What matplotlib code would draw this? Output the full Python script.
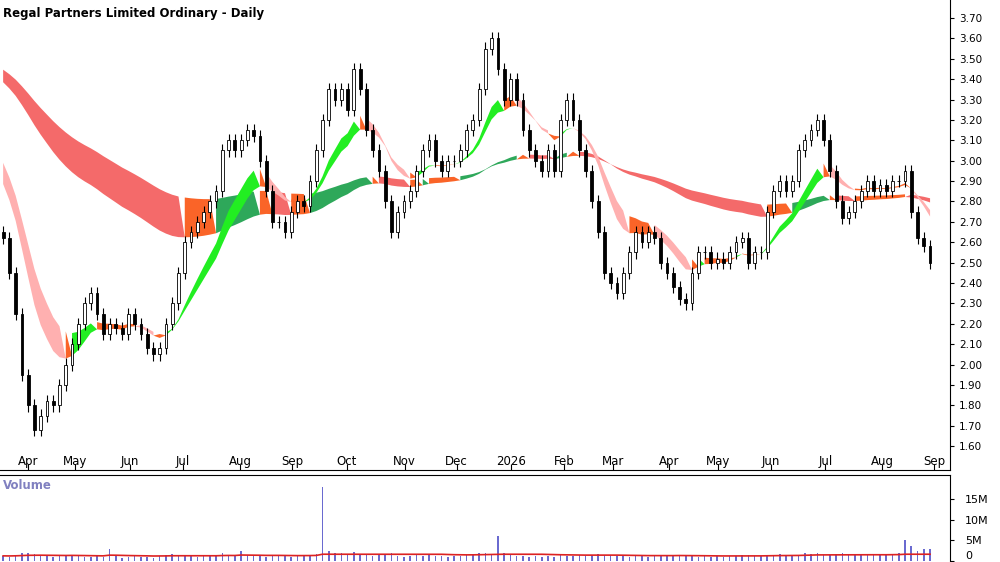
import matplotlib.pyplot as plt
import numpy as np

TITLE = "Regal Partners Limited Ordinary - Daily"

# closes (one bar every ~2 sessions)
closes = [2.62, 2.45, 2.25, 1.95, 1.80, 1.68, 1.75, 1.82, 1.80, 1.90, 2.00, 2.10, 2.20, 2.30,
          2.35, 2.25, 2.15, 2.20, 2.18, 2.15, 2.25, 2.20, 2.15, 2.08, 2.05, 2.08, 2.20, 2.30,
          2.45, 2.60, 2.65, 2.70, 2.75, 2.80, 2.85, 3.05, 3.10, 3.05, 3.10, 3.15, 3.12, 3.00,
          2.85, 2.70, 2.70, 2.65, 2.75, 2.80, 2.78, 2.90, 3.05, 3.20, 3.35, 3.30, 3.35, 3.25,
          3.45, 3.35, 3.15, 3.05, 2.95, 2.80, 2.65, 2.75, 2.80, 2.85, 2.95, 3.05, 3.10, 3.00,
          2.95, 3.00, 3.00, 3.05, 3.15, 3.20, 3.35, 3.55, 3.60, 3.45, 3.30, 3.40, 3.30, 3.15,
          3.05, 3.00, 2.95, 3.05, 2.95, 3.20, 3.30, 3.20, 3.05, 2.95, 2.80, 2.65, 2.45, 2.40,
          2.35, 2.45, 2.55, 2.65, 2.60, 2.65, 2.62, 2.50, 2.45, 2.38, 2.32, 2.30, 2.45, 2.55,
          2.55, 2.50, 2.52, 2.50, 2.55, 2.60, 2.62, 2.50, 2.55, 2.55, 2.75, 2.85, 2.90, 2.85,
          2.90, 3.05, 3.10, 3.15, 3.20, 3.10, 2.95, 2.80, 2.72, 2.75, 2.80, 2.85, 2.90, 2.85,
          2.88, 2.85, 2.90, 2.90, 2.95, 2.75, 2.62, 2.58, 2.50]
# closes before the visible window (seed the averages)
earlier = [3.60, 3.60, 3.55, 3.50, 3.45, 3.40, 3.30, 3.20, 3.10, 3.00, 2.90, 2.80, 2.75, 2.70, 2.65]

volume_m = [1.2, 1.0, 1.5, 2.0, 1.8, 1.6, 1.4, 1.2, 1.0, 1.3, 1.1, 1.5, 1.2, 1.0,
            0.9, 1.1, 1.0, 3.0, 1.2, 0.8, 1.0, 1.1, 0.9, 1.0, 0.8, 1.2, 1.4, 1.6,
            1.3, 1.5, 1.2, 1.0, 1.1, 1.3, 1.2, 1.8, 1.5, 1.2, 2.5, 1.3, 1.1, 1.2,
            1.0, 1.4, 1.2, 1.1, 1.0, 1.2, 1.3, 1.4, 1.6, 18.0, 2.5, 1.8, 2.0, 1.6,
            2.2, 1.5, 1.4, 1.2, 1.3, 1.5, 1.8, 1.2, 1.0, 1.1, 1.3, 1.2, 1.4, 1.1,
            1.2, 1.0, 1.1, 1.2, 1.3, 1.5, 1.8, 2.0, 1.6, 6.0, 1.8, 1.5, 1.2, 1.1,
            1.0, 1.2, 1.0, 1.1, 0.9, 1.4, 1.2, 1.1, 1.3, 1.2, 1.4, 1.6, 1.5, 1.3,
            1.2, 1.1, 1.0, 1.2, 1.1, 1.0, 1.2, 1.3, 1.1, 1.4, 1.5, 1.2, 1.1, 1.0,
            1.2, 1.0, 1.1, 1.0, 1.2, 1.1, 1.3, 1.4, 1.2, 1.1, 1.5, 1.3, 1.6, 1.4,
            1.3, 1.5, 1.8, 1.6, 2.0, 1.5, 1.4, 1.6, 1.8, 1.5, 1.4, 1.6, 1.5, 1.3,
            1.4, 1.5, 1.6, 1.8, 5.0, 3.5, 2.5, 2.8, 3.0]

month_labels = ["Apr", "May", "Jun", "Jul", "Aug", "Sep", "Oct", "Nov", "Dec", "2026",
                "Feb", "Mar", "Apr", "May", "Jun", "Jul", "Aug", "Sep"]
month_px = [25, 72, 127, 180, 238, 290, 345, 403, 455, 510, 563, 612, 668, 717, 770, 825, 882, 934]
price_ticks = [1.6, 1.7, 1.8, 1.9, 2.0, 2.1, 2.2, 2.3, 2.4, 2.5, 2.6, 2.7, 2.8, 2.9,
               3.0, 3.1, 3.2, 3.3, 3.4, 3.5, 3.6, 3.7]


def ema(values, period):
    a = 2.0 / (period + 1)
    out = [values[0]]
    for v in values[1:]:
        out.append(out[-1] + a * (v - out[-1]))
    return np.array(out)


allc = earlier + closes
k = len(earlier)
s_fast, s_slow = ema(allc, 10)[k:], ema(allc, 14)[k:]
l_fast, l_slow = ema(allc, 60)[k:], ema(allc, 88)[k:]

n = len(closes)
x = np.arange(n)
c = np.array(closes)
o = np.r_[earlier[-1], c[:-1]]
hi = np.maximum(o, c) + 0.03
lo = np.minimum(o, c) - 0.03
scale = (n - 1) / 930.0
month_x = [p * scale for p in month_px]

fig = plt.figure(figsize=(10, 5.62), dpi=100)
ax = fig.add_axes([0, 0.164, 0.95, 0.836])
axv = fig.add_axes([0, 0, 0.95, 0.155])

# long ribbon, coloured by slope of its fast edge
sl = np.gradient(l_fast)
lo_b, up_b = np.minimum(l_fast, l_slow), np.maximum(l_fast, l_slow)
ax.fill_between(x, lo_b, up_b, where=sl <= 0, color="#f46a6a", lw=0, interpolate=True)
ax.fill_between(x, lo_b, up_b, where=(sl > 0) & (sl < 0.0065), color="#fa6428", lw=0, interpolate=True)
ax.fill_between(x, lo_b, up_b, where=sl >= 0.0065, color="#2ea85a", lw=0, interpolate=True)
# short ribbon
ss = np.gradient(s_fast)
lo_b, up_b = np.minimum(s_fast, s_slow), np.maximum(s_fast, s_slow)
ax.fill_between(x, lo_b, up_b, where=ss <= -0.01, color="#ffb0b0", lw=0, interpolate=True)
ax.fill_between(x, lo_b, up_b, where=(ss > -0.01) & (ss < 0.014), color="#fa6428", lw=0, interpolate=True)
ax.fill_between(x, lo_b, up_b, where=ss >= 0.014, color="#22ee22", lw=0, interpolate=True)

# candles
ax.vlines(x, lo, hi, color="black", lw=0.8, zorder=3)
up = c >= o
ax.bar(x[up], (c - o)[up], bottom=o[up], width=0.45, color="white", edgecolor="black", lw=0.6, zorder=4)
ax.bar(x[~up], (o - c)[~up], bottom=c[~up], width=0.45, color="black", edgecolor="black", lw=0.6, zorder=4)

xmax = 950 * scale
ax.set_xlim(-0.5, xmax)
ax.set_ylim(1.484, 3.788)
ax.yaxis.tick_right()
ax.set_yticks(price_ticks)
ax.set_yticklabels([f"{t:.2f}" for t in price_ticks], fontsize=7.5)
ax.set_xticks(month_x)
ax.set_xticklabels([])
ax.tick_params(axis="x", direction="in", length=4)
ax.tick_params(axis="y", length=3)
for lab, mx in zip(month_labels, month_x):
    ax.text(mx, 1.495, lab, ha="center", va="bottom", fontsize=8.5)
for s in ["left", "top"]:
    ax.spines[s].set_visible(False)
ax.text(0.003, 0.985, TITLE, transform=ax.transAxes, ha="left", va="top", fontsize=8.5, fontweight="bold")

vol = np.array(volume_m)
axv.bar(x, vol, width=0.25, color="#6a6ad0")
vma = ema(list(vol), 20)
axv.plot(x, np.minimum(vma, 1.6), color="#dd2222", lw=1.2)
axv.set_xlim(-0.5, xmax)
axv.set_ylim(-0.3, 21)
axv.yaxis.tick_right()
axv.set_yticks([0, 5, 10, 15])
axv.set_yticklabels(["0", "5M", "10M", "15M"], fontsize=8)
axv.tick_params(axis="y", length=3, pad=8)
axv.get_yticklabels()[0].set_va("bottom")
axv.set_xticks([])
axv.spines["left"].set_visible(False)
axv.spines["bottom"].set_visible(False)
axv.text(0.003, 0.95, "Volume", transform=axv.transAxes, ha="left", va="top", fontsize=8.5,
         fontweight="bold", color="#8080c0")

fig.savefig("out.png", dpi=100)
